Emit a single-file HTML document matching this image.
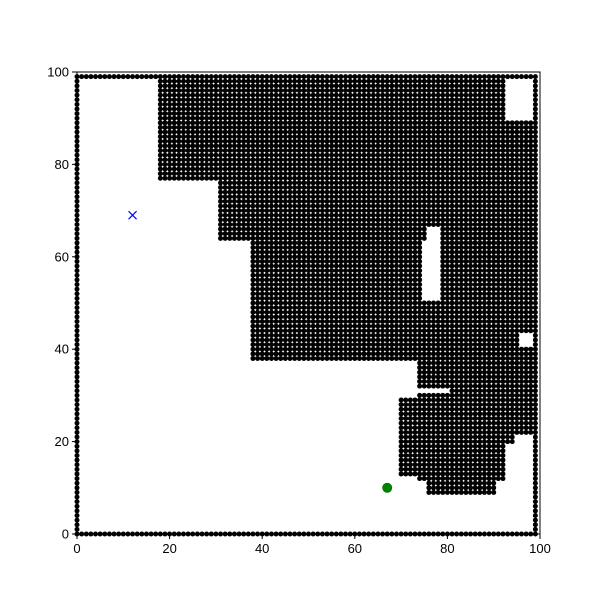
<!DOCTYPE html>
<html><head><meta charset="utf-8"><style>
html,body{margin:0;padding:0;background:#fff;}
svg text{font-family:"Liberation Sans",sans-serif;font-size:13px;fill:#000;}
</style></head><body>
<svg id="chart" width="600" height="600" xmlns="http://www.w3.org/2000/svg">
<rect width="600" height="600" fill="#fff"/>
<g id="dots"></g>
<g id="axes"></g>
</svg>
<script>
// obstacle rectangles (inclusive integer grid ranges)
const rectX0 = [0, 0, 0, 99, 18, 31, 38, 38, 75, 75, 76, 79, 93, 93, 93, 70, 74, 76, 91, 93, 81, 74];
const rectX1 = [99,99, 0, 99, 92, 37, 92, 74, 75, 75, 78, 92, 98, 95, 98, 73, 75, 90, 92, 94, 98, 98];
const rectY0 = [0, 99, 0, 0, 77, 64, 67, 38, 38, 64, 38, 38, 44, 41, 22, 13, 12, 9, 12, 20, 31, 32];
const rectY1 = [0, 99, 99, 99, 98, 76, 76, 66, 50, 66, 50, 66, 89, 43, 40, 29, 30, 30, 30, 30, 31, 37];
const startPt = [67, 10];
const goalPt = [12, 69];
const xTicks = [0, 20, 40, 60, 80, 100];
const yTicks = [0, 20, 40, 60, 80, 100];

const L=77, R=540, T=72, B=534;
const X = v => L + v*(R-L)/100;
const Y = v => B - v*(B-T)/100;
const NS="http://www.w3.org/2000/svg";
function mk(tag, attrs, parent){const e=document.createElementNS(NS,tag);for(const k in attrs)e.setAttribute(k,attrs[k]);parent.appendChild(e);return e;}

const dots=document.getElementById('dots');
const seen=new Set();
for(let r=0;r<rectX0.length;r++){
  for(let x=rectX0[r];x<=rectX1[r];x++){
    for(let y=rectY0[r];y<=rectY1[r];y++){
      const key=x+','+y; if(seen.has(key))continue; seen.add(key);
      const c=mk('circle',{cx:X(x),cy:Y(y),r:2.5,fill:'#000'},dots);
      
      
    }
  }
}
const ax=document.getElementById('axes');
const g=mk('circle',{cx:X(startPt[0]),cy:Y(startPt[1]),r:5,fill:'#008000'},ax);


const gx=X(goalPt[0]), gy=Y(goalPt[1]);
const gm=mk('path',{d:`M${gx-4},${gy-4}L${gx+4},${gy+4}M${gx-4},${gy+4}L${gx+4},${gy-4}`,stroke:'#0000ff','stroke-width':1.2,fill:'none'},ax);


const fr=mk('rect',{x:L,y:T,width:R-L,height:B-T,fill:'none',stroke:'#000','stroke-width':1},ax);


xTicks.forEach(t=>{
  const tl=mk('line',{x1:X(t),x2:X(t),y1:B,y2:B+5,stroke:'#000','stroke-width':1},ax);
  
  
  const tx=mk('text',{x:X(t),y:B+19,'text-anchor':'middle'},ax);
  tx.textContent=t;
  
  
});
yTicks.forEach(t=>{
  const tl=mk('line',{x1:L-5,x2:L,y1:Y(t),y2:Y(t),stroke:'#000','stroke-width':1},ax);
  
  
  const tx=mk('text',{x:L-8,y:Y(t)+4.5,'text-anchor':'end'},ax);
  tx.textContent=t;
  
  
});
</script>
</body></html>
